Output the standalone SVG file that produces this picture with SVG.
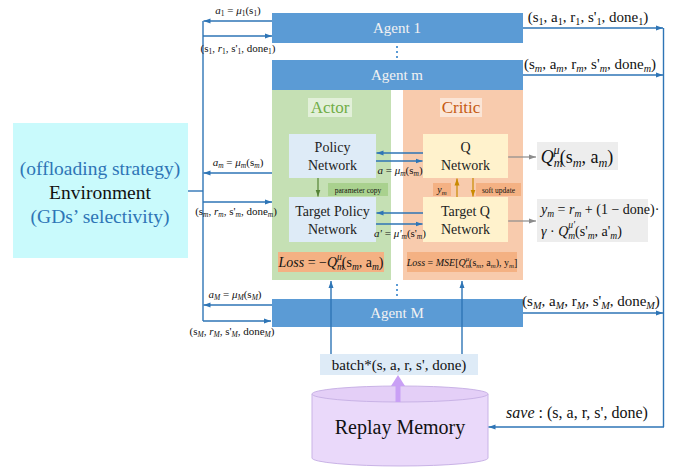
<svg xmlns="http://www.w3.org/2000/svg" width="678" height="468" viewBox="0 0 678 468">
<defs>
<style>
text { font-family: "Liberation Serif", "Times New Roman", serif; fill: #111; }
.i { font-style: italic; }
.s { font-size: 0.68em; }
.agent { fill: #5B9BD5; }
.agentTxt { fill: #F2F2F2; font-size: 15px; text-anchor: middle; }
.blue { stroke: #2E75B6; stroke-width: 1.4; fill: none; }
.gray { stroke: #8C8C8C; stroke-width: 1.2; fill: none; }
.net { fill: #DEEBF7; }
.qnet { fill: #FFF2CC; }
.netTxt { font-size: 14px; text-anchor: middle; fill: #222; }
.lbl { font-size: 11px; text-anchor: middle; }
.tup { font-size: 15px; text-anchor: middle; }
.dots { stroke: #5B9BD5; stroke-width: 2; stroke-dasharray: 2 3; }
</style>
<marker id="ab" markerWidth="8" markerHeight="8" refX="7" refY="4" orient="auto" markerUnits="userSpaceOnUse">
<path d="M0,1.5 L7,4 L0,6.5 Z" fill="#2E75B6"/>
</marker>
<marker id="ag" markerWidth="8" markerHeight="8" refX="7" refY="4" orient="auto" markerUnits="userSpaceOnUse">
<path d="M0,1.5 L7,4 L0,6.5 Z" fill="#8C8C8C"/>
</marker>
<marker id="agr" markerWidth="8" markerHeight="8" refX="7" refY="4" orient="auto" markerUnits="userSpaceOnUse">
<path d="M0,1.5 L7,4 L0,6.5 Z" fill="#548235"/>
</marker>
<marker id="ao" markerWidth="8" markerHeight="8" refX="7" refY="4" orient="auto" markerUnits="userSpaceOnUse">
<path d="M0,1.5 L7,4 L0,6.5 Z" fill="#C98A00"/>
</marker>
</defs>

<!-- environment -->
<g id="environment">
<rect x="13" y="123" width="175" height="135" fill="#C9FAFC"/>
<text x="100" y="175" text-anchor="middle" font-size="19.5" style="fill:#2E75B6">(offloading strategy)</text>
<text x="100" y="199" text-anchor="middle" font-size="19.5">Environment</text>
<text x="100" y="223" text-anchor="middle" font-size="19.5" style="fill:#2E75B6">(GDs’ selectivity)</text>
</g>

<!-- agents -->
<g id="agent1">
<rect class="agent" x="272" y="13" width="251" height="30"/>
<text class="agentTxt" x="397" y="33">Agent 1</text>
</g>
<g id="agentM">
<rect class="agent" x="272" y="299" width="251" height="28"/>
<text class="agentTxt" x="397" y="318">Agent M</text>
</g>
<g id="agentm">
<rect class="agent" x="272" y="60" width="251" height="30"/>
<text class="agentTxt" x="397" y="80">Agent m</text>
<!-- actor panel -->
<rect x="272" y="90" width="119" height="190" fill="#C5E0B4"/>
<rect x="308" y="98" width="44" height="19" fill="#E2F0D9"/>
<text x="330" y="113" text-anchor="middle" font-size="17" style="fill:#70AD47">Actor</text>
<!-- critic panel -->
<rect x="403" y="90" width="120" height="190" fill="#F8CBAD"/>
<rect x="440" y="98" width="42" height="19" fill="#FBE5D6"/>
<text x="461" y="113" text-anchor="middle" font-size="17" style="fill:#C55A11">Critic</text>
</g>

<g id="policy-network">
<rect class="net" x="289" y="134" width="87" height="44"/>
<text class="netTxt" x="332.5" y="152">Policy</text>
<text class="netTxt" x="332.5" y="170">Network</text>
</g>
<g id="q-network">
<rect class="qnet" x="423" y="134" width="85" height="44"/>
<text class="netTxt" x="465.5" y="152">Q</text>
<text class="netTxt" x="465.5" y="170">Network</text>
</g>
<g id="target-policy-network">
<rect class="net" x="289" y="197" width="87" height="45"/>
<text class="netTxt" x="332.5" y="216">Target Policy</text>
<text class="netTxt" x="332.5" y="234">Network</text>
</g>
<g id="target-q-network">
<rect class="qnet" x="423" y="197" width="85" height="45"/>
<text class="netTxt" x="465.5" y="216">Target Q</text>
<text class="netTxt" x="465.5" y="234">Network</text>
</g>

<g id="parameter-copy">
<rect x="328" y="183" width="60" height="13" fill="#A9D18E"/>
<text x="358" y="192.5" text-anchor="middle" font-size="7.5">parameter copy</text>
</g>
<g id="ym-tag">
<rect x="433" y="183" width="18" height="13" fill="#F4B183"/>
<text x="442" y="192.5" text-anchor="middle" font-size="10"><tspan class="i">y</tspan><tspan class="s i" dy="2">m</tspan></text>
</g>
<g id="soft-update">
<rect x="476" y="183" width="45" height="13" fill="#F4B183"/>
<text x="498.5" y="192.5" text-anchor="middle" font-size="7.5">soft update</text>
</g>

<g id="actor-loss">
<rect x="278" y="252" width="106" height="20" fill="#F4B183"/>
<text x="331" y="267" text-anchor="middle" font-size="14"><tspan class="i">Loss</tspan> = −<tspan class="i">Q</tspan><tspan class="s i" dy="3">m</tspan><tspan class="s i" dx="-7" dy="-10">μ</tspan><tspan dy="7">(s</tspan><tspan class="s i" dy="3">m</tspan><tspan dy="-3">, a</tspan><tspan class="s i" dy="3">m</tspan><tspan dy="-3">)</tspan></text>
</g>
<g id="critic-loss">
<rect x="407" y="252" width="110" height="20" fill="#F4B183"/>
<text x="462" y="266" text-anchor="middle" font-size="10"><tspan class="i">Loss</tspan> = <tspan class="i">MSE</tspan>[<tspan class="i">Q</tspan><tspan class="s i" dy="2">m</tspan><tspan class="s i" dx="-5" dy="-7">μ</tspan><tspan dy="5">(s</tspan><tspan class="s i" dy="2">m</tspan><tspan dy="-2">, a</tspan><tspan class="s i" dy="2">m</tspan><tspan dy="-2">), y</tspan><tspan class="s i" dy="2">m</tspan><tspan dy="-2">]</tspan></text>
</g>

<g id="q-value">
<rect x="537" y="142" width="81" height="28" fill="#EDEDED"/>
<text x="577" y="163" text-anchor="middle" font-size="18"><tspan class="i">Q</tspan><tspan class="s i" dy="4">m</tspan><tspan class="s i" dx="-9" dy="-13">μ</tspan><tspan dy="9">(s</tspan><tspan class="s i" dy="4">m</tspan><tspan dy="-4">, a</tspan><tspan class="s i" dy="4">m</tspan><tspan dy="-4">)</tspan></text>
</g>
<g id="target-value">
<rect x="537" y="199" width="111" height="43" fill="#EDEDED"/>
<text x="541" y="214" font-size="14"><tspan class="i">y</tspan><tspan class="s i" dy="3">m</tspan><tspan dy="-3"> = </tspan><tspan class="i">r</tspan><tspan class="s i" dy="3">m</tspan><tspan dy="-3"> + (1 − done)·</tspan></text>
<text x="541" y="236" font-size="14"><tspan class="i">γ</tspan> · <tspan class="i">Q</tspan><tspan class="s i" dy="3">m</tspan><tspan class="s i" dx="-7" dy="-11">μ'</tspan><tspan dy="8">(s'</tspan><tspan class="s i" dy="3">m</tspan><tspan dy="-3">, a'</tspan><tspan class="s i" dy="3">m</tspan><tspan dy="-3">)</tspan></text>
</g>

<g id="batch">
<rect x="320" y="354" width="158" height="21" fill="#DEEBF7"/>
<text x="399" y="370" text-anchor="middle" font-size="15">batch*(s, a, r, s', done)</text>
</g>

<g id="replay-memory">
<path d="M312,394 L312,458 A88,8 0 0 0 488,458 L488,394" fill="#EAD9FA" stroke="#C9B3E6" stroke-width="1"/>
<ellipse cx="400" cy="394" rx="88" ry="8" fill="#E4CFF7" stroke="#C9B3E6" stroke-width="1"/>
<text x="400" y="434" text-anchor="middle" font-size="20">Replay Memory</text>
</g>

<!-- connectors -->
<g id="connectors">
<!-- environment bus -->
<line class="blue" x1="188" y1="191" x2="203" y2="191"/>
<line class="blue" x1="203" y1="21" x2="203" y2="321"/>
<line class="blue" x1="272" y1="21" x2="203.5" y2="21" marker-end="url(#ab)"/>
<line class="blue" x1="203" y1="36" x2="272" y2="36" marker-end="url(#ab)"/>
<line class="blue" x1="272" y1="173" x2="203.5" y2="173" marker-end="url(#ab)"/>
<line class="blue" x1="203" y1="202" x2="272" y2="202" marker-end="url(#ab)"/>
<line class="blue" x1="272" y1="305" x2="203.5" y2="305" marker-end="url(#ab)"/>
<line class="blue" x1="203" y1="321" x2="271" y2="321" marker-end="url(#ab)"/>
<!-- experience bus -->
<line class="blue" x1="523" y1="28" x2="663" y2="28" marker-end="url(#ab)"/>
<line class="blue" x1="523" y1="75" x2="663" y2="75" marker-end="url(#ab)"/>
<line class="blue" x1="523" y1="313" x2="663" y2="313" marker-end="url(#ab)"/>
<line class="blue" x1="663.5" y1="28" x2="663.5" y2="427"/>
<line class="blue" x1="664" y1="427" x2="488.5" y2="427" marker-end="url(#ab)"/>
<!-- actor / critic links -->
<line class="blue" x1="423" y1="153" x2="376.5" y2="153" marker-end="url(#ab)"/>
<line class="blue" x1="376" y1="161" x2="422.5" y2="161" marker-end="url(#ab)"/>
<line class="blue" x1="423" y1="213" x2="376.5" y2="213" marker-end="url(#ab)"/>
<line class="blue" x1="376" y1="224" x2="422.5" y2="224" marker-end="url(#ab)"/>
<line stroke="#548235" stroke-width="1.2" x1="318" y1="178" x2="318" y2="196.5" marker-end="url(#agr)"/>
<line stroke="#C98A00" stroke-width="1.2" x1="457" y1="197" x2="457" y2="178.5" marker-end="url(#ao)"/>
<line stroke="#C98A00" stroke-width="1.2" x1="473" y1="178" x2="473" y2="196.5" marker-end="url(#ao)"/>
<line class="gray" x1="508" y1="157" x2="536" y2="157" marker-end="url(#ag)"/>
<line class="gray" x1="508" y1="221" x2="536" y2="221" marker-end="url(#ag)"/>
<!-- sampled batch to actor and critic -->
<line class="blue" x1="331" y1="354" x2="331" y2="281" marker-end="url(#ab)"/>
<line class="blue" x1="462" y1="354" x2="462" y2="281" marker-end="url(#ab)"/>
<line stroke="#C9A0F5" stroke-width="5" x1="398" y1="402" x2="398" y2="385"/>
<path d="M391,386 L398,375 L405,386 Z" fill="#C9A0F5"/>
<!-- ellipsis dots -->
<line class="dots" x1="397" y1="46" x2="397" y2="58"/>
<line class="dots" x1="397" y1="284" x2="397" y2="297"/>
</g>

<!-- connector labels -->
<g id="labels">
<text class="lbl" x="238" y="14" font-size="12"><tspan class="i">a</tspan><tspan class="s" dy="2">1</tspan><tspan dy="-2"> = </tspan><tspan class="i">μ</tspan><tspan class="s" dy="2">1</tspan><tspan dy="-2">(s</tspan><tspan class="s" dy="2">1</tspan><tspan dy="-2">)</tspan></text>
<text class="lbl" x="238" y="52"><tspan>(s</tspan><tspan class="s" dy="2">1</tspan><tspan dy="-2">, </tspan><tspan class="i">r</tspan><tspan class="s" dy="2">1</tspan><tspan dy="-2">, s'</tspan><tspan class="s" dy="2">1</tspan><tspan dy="-2">, done</tspan><tspan class="s" dy="2">1</tspan><tspan dy="-2">)</tspan></text>
<text class="lbl" x="238" y="166"><tspan class="i">a</tspan><tspan class="s i" dy="2">m</tspan><tspan dy="-2"> = </tspan><tspan class="i">μ</tspan><tspan class="s i" dy="2">m</tspan><tspan dy="-2">(s</tspan><tspan class="s i" dy="2">m</tspan><tspan dy="-2">)</tspan></text>
<text class="lbl" x="236" y="215" font-size="10"><tspan>(s</tspan><tspan class="s i" dy="2">m</tspan><tspan dy="-2">, </tspan><tspan class="i">r</tspan><tspan class="s i" dy="2">m</tspan><tspan dy="-2">, s'</tspan><tspan class="s i" dy="2">m</tspan><tspan dy="-2">, done</tspan><tspan class="s i" dy="2">m</tspan><tspan dy="-2">)</tspan></text>
<text class="lbl" x="235" y="298"><tspan class="i">a</tspan><tspan class="s i" dy="2">M</tspan><tspan dy="-2"> = </tspan><tspan class="i">μ</tspan><tspan class="s i" dy="2">M</tspan><tspan dy="-2">(s</tspan><tspan class="s i" dy="2">M</tspan><tspan dy="-2">)</tspan></text>
<text class="lbl" x="232" y="335"><tspan>(s</tspan><tspan class="s i" dy="2">M</tspan><tspan dy="-2">, </tspan><tspan class="i">r</tspan><tspan class="s i" dy="2">M</tspan><tspan dy="-2">, s'</tspan><tspan class="s i" dy="2">M</tspan><tspan dy="-2">, done</tspan><tspan class="s i" dy="2">M</tspan><tspan dy="-2">)</tspan></text>
<text class="lbl" x="400" y="174" font-size="9"><tspan class="i">a</tspan> = <tspan class="i">μ</tspan><tspan class="s i" dy="2">m</tspan><tspan dy="-2">(s</tspan><tspan class="s i" dy="2">m</tspan><tspan dy="-2">)</tspan></text>
<text class="lbl" x="400" y="237" font-size="9"><tspan class="i">a'</tspan> = <tspan class="i">μ'</tspan><tspan class="s i" dy="2">m</tspan><tspan dy="-2">(s'</tspan><tspan class="s i" dy="2">m</tspan><tspan dy="-2">)</tspan></text>
<text class="tup" x="588" y="22"><tspan>(s</tspan><tspan class="s" dy="3">1</tspan><tspan dy="-3">, a</tspan><tspan class="s" dy="3">1</tspan><tspan dy="-3">, r</tspan><tspan class="s" dy="3">1</tspan><tspan dy="-3">, s'</tspan><tspan class="s" dy="3">1</tspan><tspan dy="-3">, done</tspan><tspan class="s" dy="3">1</tspan><tspan dy="-3">)</tspan></text>
<text class="tup" x="590" y="69"><tspan>(s</tspan><tspan class="s i" dy="3">m</tspan><tspan dy="-3">, a</tspan><tspan class="s i" dy="3">m</tspan><tspan dy="-3">, r</tspan><tspan class="s i" dy="3">m</tspan><tspan dy="-3">, s'</tspan><tspan class="s i" dy="3">m</tspan><tspan dy="-3">, done</tspan><tspan class="s i" dy="3">m</tspan><tspan dy="-3">)</tspan></text>
<text class="tup" x="591" y="306"><tspan>(s</tspan><tspan class="s i" dy="3">M</tspan><tspan dy="-3">, a</tspan><tspan class="s i" dy="3">M</tspan><tspan dy="-3">, r</tspan><tspan class="s i" dy="3">M</tspan><tspan dy="-3">, s'</tspan><tspan class="s i" dy="3">M</tspan><tspan dy="-3">, done</tspan><tspan class="s i" dy="3">M</tspan><tspan dy="-3">)</tspan></text>
<text x="577" y="418" text-anchor="middle" font-size="16"><tspan class="i">save</tspan> : (s, a, r, s', done)</text>
</g>
</svg>
